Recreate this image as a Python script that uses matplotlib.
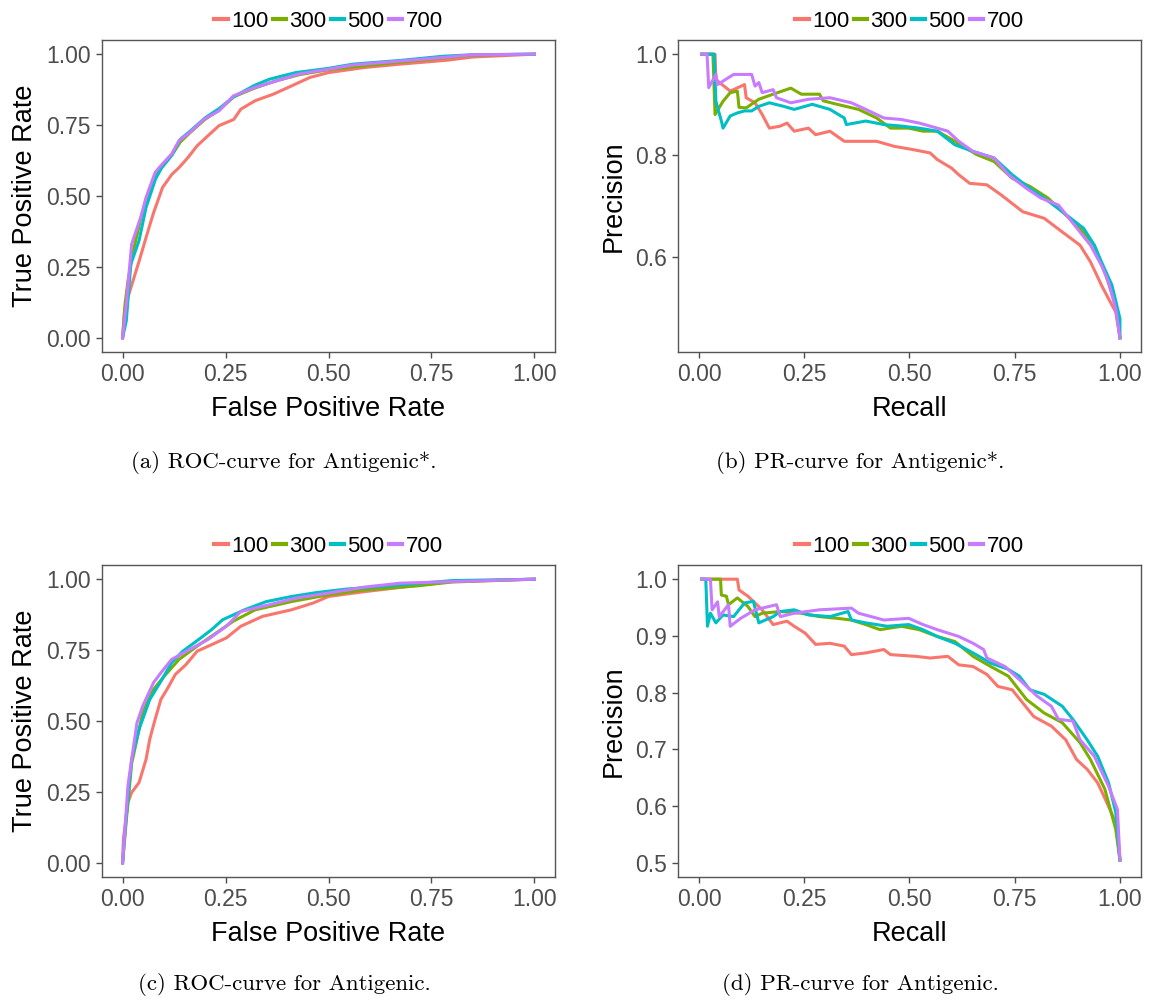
import matplotlib
matplotlib.use('Agg')
import matplotlib.pyplot as plt

plt.rcParams['font.family'] = ['Liberation Sans', 'DejaVu Sans']

SIZES = ["100", "300", "500", "700"]
COLORS = ["#F8766D", "#7CAE00", "#00BFC4", "#C77CFF"]

# (a) ROC, Antigenic*
roc_a_fpr = {
    "100": [0, 0.005, 0.013, 0.04, 0.057, 0.075, 0.097, 0.12, 0.137, 0.159, 0.181, 0.207, 0.234, 0.27, 0.287, 0.322, 0.366, 0.41, 0.455, 0.5, 0.587, 0.675, 0.79, 0.85, 1.0],
    "300": [0, 0.006, 0.013, 0.025, 0.044, 0.06, 0.08, 0.095, 0.12, 0.14, 0.165, 0.2, 0.236, 0.27, 0.32, 0.37, 0.43, 0.5, 0.56, 0.675, 0.79, 0.85, 1.0],
    "500": [0, 0.009, 0.02, 0.04, 0.057, 0.08, 0.095, 0.12, 0.14, 0.165, 0.2, 0.236, 0.27, 0.32, 0.357, 0.42, 0.5, 0.56, 0.675, 0.78, 0.85, 1.0],
    "700": [0, 0.009, 0.022, 0.044, 0.057, 0.079, 0.093, 0.119, 0.137, 0.163, 0.198, 0.234, 0.269, 0.322, 0.375, 0.428, 0.5, 0.56, 0.675, 0.79, 0.85, 1.0],
}
roc_a_tpr = {
    "100": [0, 0.1, 0.143, 0.27, 0.354, 0.44, 0.53, 0.577, 0.60, 0.636, 0.677, 0.712, 0.748, 0.77, 0.806, 0.836, 0.859, 0.888, 0.918, 0.935, 0.953, 0.965, 0.979, 0.99, 1.0],
    "300": [0, 0.12, 0.2, 0.3, 0.42, 0.49, 0.575, 0.6, 0.645, 0.69, 0.725, 0.77, 0.805, 0.85, 0.88, 0.905, 0.928, 0.945, 0.955, 0.972, 0.988, 0.997, 1.0],
    "500": [0, 0.06, 0.26, 0.343, 0.46, 0.56, 0.6, 0.645, 0.7, 0.73, 0.775, 0.81, 0.85, 0.89, 0.912, 0.935, 0.95, 0.965, 0.978, 0.993, 0.998, 1.0],
    "700": [0, 0.12, 0.33, 0.425, 0.495, 0.583, 0.607, 0.648, 0.695, 0.724, 0.771, 0.80, 0.853, 0.883, 0.906, 0.93, 0.947, 0.962, 0.976, 0.99, 0.998, 1.0],
}

# (b) PR, Antigenic*
pr_b_rec = {
    "100": [0.006, 0.038, 0.04, 0.074, 0.108, 0.112, 0.133, 0.15, 0.167, 0.193, 0.209, 0.226, 0.26, 0.277, 0.311, 0.345, 0.379, 0.422, 0.464, 0.506, 0.549, 0.566, 0.6, 0.617, 0.643, 0.684, 0.718, 0.769, 0.82, 0.863, 0.905, 0.93, 0.956, 0.973, 0.99, 1.0],
    "300": [0.006, 0.033, 0.038, 0.057, 0.074, 0.091, 0.095, 0.112, 0.142, 0.176, 0.218, 0.243, 0.286, 0.295, 0.328, 0.379, 0.422, 0.455, 0.498, 0.532, 0.566, 0.608, 0.659, 0.701, 0.744, 0.786, 0.829, 0.863, 0.905, 0.939, 0.964, 0.99, 1.0],
    "500": [0.006, 0.036, 0.04, 0.053, 0.057, 0.074, 0.091, 0.108, 0.125, 0.142, 0.167, 0.201, 0.226, 0.269, 0.311, 0.345, 0.35, 0.396, 0.439, 0.481, 0.523, 0.566, 0.608, 0.651, 0.701, 0.744, 0.786, 0.82, 0.863, 0.914, 0.939, 0.956, 0.981, 1.0, 1.0],
    "700": [0.006, 0.019, 0.023, 0.04, 0.044, 0.082, 0.125, 0.133, 0.142, 0.15, 0.176, 0.184, 0.218, 0.26, 0.311, 0.362, 0.396, 0.439, 0.481, 0.523, 0.566, 0.591, 0.617, 0.651, 0.701, 0.735, 0.778, 0.812, 0.854, 0.879, 0.905, 0.93, 0.956, 0.973, 0.99, 1.0],
}
pr_b_prec = {
    "100": [1.0, 1.0, 0.95, 0.927, 0.94, 0.914, 0.904, 0.881, 0.854, 0.858, 0.864, 0.848, 0.854, 0.841, 0.848, 0.828, 0.828, 0.828, 0.818, 0.812, 0.805, 0.792, 0.775, 0.762, 0.745, 0.742, 0.722, 0.689, 0.676, 0.649, 0.623, 0.59, 0.544, 0.517, 0.491, 0.44],
    "300": [1.0, 1.0, 0.881, 0.907, 0.924, 0.927, 0.895, 0.894, 0.911, 0.921, 0.933, 0.921, 0.921, 0.908, 0.901, 0.891, 0.874, 0.854, 0.854, 0.848, 0.848, 0.828, 0.802, 0.788, 0.755, 0.739, 0.716, 0.689, 0.656, 0.623, 0.57, 0.504, 0.44],
    "500": [1.0, 1.0, 0.907, 0.868, 0.854, 0.878, 0.884, 0.888, 0.888, 0.897, 0.904, 0.897, 0.891, 0.901, 0.891, 0.874, 0.861, 0.868, 0.861, 0.858, 0.854, 0.848, 0.821, 0.808, 0.795, 0.762, 0.735, 0.716, 0.689, 0.656, 0.623, 0.59, 0.544, 0.478, 0.44],
    "700": [1.0, 1.0, 0.934, 0.96, 0.94, 0.96, 0.96, 0.937, 0.944, 0.924, 0.93, 0.914, 0.904, 0.911, 0.914, 0.904, 0.891, 0.874, 0.871, 0.864, 0.854, 0.848, 0.828, 0.808, 0.795, 0.762, 0.735, 0.716, 0.702, 0.676, 0.649, 0.623, 0.583, 0.55, 0.497, 0.44],
}

# (c) ROC, Antigenic
roc_c_fpr = {
    "100": [0, 0.002, 0.013, 0.022, 0.04, 0.057, 0.066, 0.079, 0.093, 0.11, 0.128, 0.154, 0.181, 0.216, 0.252, 0.287, 0.34, 0.41, 0.463, 0.5, 0.587, 0.675, 0.80, 1.0],
    "300": [0, 0.009, 0.022, 0.049, 0.075, 0.101, 0.137, 0.181, 0.216, 0.269, 0.322, 0.41, 0.5, 0.587, 0.719, 0.80, 1.0],
    "500": [0, 0.009, 0.022, 0.04, 0.066, 0.093, 0.119, 0.146, 0.19, 0.216, 0.243, 0.296, 0.349, 0.41, 0.472, 0.543, 0.675, 0.80, 1.0],
    "700": [0, 0.013, 0.022, 0.035, 0.049, 0.075, 0.093, 0.119, 0.163, 0.207, 0.252, 0.287, 0.357, 0.42, 0.5, 0.587, 0.675, 1.0],
}
roc_c_tpr = {
    "100": [0, 0.084, 0.213, 0.248, 0.283, 0.365, 0.436, 0.506, 0.576, 0.617, 0.664, 0.699, 0.746, 0.769, 0.793, 0.834, 0.869, 0.892, 0.916, 0.939, 0.956, 0.971, 0.992, 1.0],
    "300": [0, 0.15, 0.35, 0.53, 0.611, 0.658, 0.717, 0.764, 0.799, 0.852, 0.892, 0.921, 0.945, 0.962, 0.977, 0.99, 1.0],
    "500": [0, 0.166, 0.365, 0.471, 0.576, 0.64, 0.705, 0.746, 0.793, 0.822, 0.857, 0.892, 0.921, 0.939, 0.953, 0.965, 0.98, 0.995, 1.0],
    "700": [0, 0.272, 0.365, 0.494, 0.553, 0.635, 0.67, 0.717, 0.752, 0.787, 0.834, 0.886, 0.91, 0.933, 0.951, 0.972, 0.986, 1.0],
}

# (d) PR, Antigenic
pr_d_rec = {
    "100": [0.006, 0.091, 0.095, 0.116, 0.15, 0.176, 0.209, 0.226, 0.252, 0.277, 0.311, 0.345, 0.362, 0.396, 0.439, 0.455, 0.515, 0.549, 0.591, 0.617, 0.651, 0.684, 0.71, 0.744, 0.769, 0.795, 0.837, 0.871, 0.897, 0.922, 0.947, 0.969, 0.99, 1.0],
    "300": [0.006, 0.051, 0.053, 0.065, 0.07, 0.091, 0.116, 0.133, 0.15, 0.193, 0.243, 0.286, 0.328, 0.362, 0.396, 0.43, 0.481, 0.523, 0.566, 0.608, 0.651, 0.693, 0.735, 0.778, 0.82, 0.863, 0.905, 0.93, 0.964, 0.99, 1.0],
    "500": [0.006, 0.016, 0.02, 0.027, 0.04, 0.057, 0.082, 0.108, 0.129, 0.142, 0.176, 0.193, 0.226, 0.26, 0.311, 0.354, 0.362, 0.396, 0.447, 0.498, 0.532, 0.566, 0.608, 0.651, 0.693, 0.735, 0.761, 0.786, 0.82, 0.863, 0.888, 0.922, 0.947, 0.973, 0.99, 1.0],
    "700": [0.006, 0.027, 0.031, 0.044, 0.048, 0.07, 0.074, 0.099, 0.133, 0.184, 0.193, 0.226, 0.286, 0.362, 0.379, 0.439, 0.498, 0.532, 0.566, 0.617, 0.651, 0.676, 0.684, 0.727, 0.761, 0.803, 0.837, 0.854, 0.888, 0.905, 0.939, 0.973, 0.994, 1.0],
}
pr_d_prec = {
    "100": [1.0, 1.0, 0.981, 0.97, 0.946, 0.92, 0.926, 0.917, 0.905, 0.885, 0.887, 0.882, 0.867, 0.87, 0.876, 0.867, 0.864, 0.861, 0.864, 0.849, 0.846, 0.832, 0.811, 0.805, 0.782, 0.758, 0.741, 0.717, 0.682, 0.665, 0.641, 0.606, 0.571, 0.505],
    "300": [1.0, 1.0, 0.972, 0.97, 0.955, 0.967, 0.952, 0.934, 0.94, 0.943, 0.94, 0.934, 0.931, 0.928, 0.92, 0.911, 0.917, 0.911, 0.899, 0.89, 0.864, 0.846, 0.829, 0.788, 0.764, 0.747, 0.712, 0.682, 0.63, 0.559, 0.505],
    "500": [1.0, 1.0, 0.917, 0.94, 0.923, 0.937, 0.934, 0.958, 0.961, 0.923, 0.934, 0.943, 0.946, 0.937, 0.934, 0.943, 0.928, 0.923, 0.917, 0.92, 0.911, 0.899, 0.887, 0.87, 0.852, 0.841, 0.829, 0.805, 0.797, 0.776, 0.753, 0.717, 0.688, 0.641, 0.589, 0.505],
    "700": [1.0, 1.0, 0.946, 0.96, 0.934, 0.955, 0.917, 0.931, 0.946, 0.955, 0.934, 0.94, 0.946, 0.949, 0.94, 0.928, 0.931, 0.92, 0.911, 0.899, 0.887, 0.876, 0.861, 0.846, 0.823, 0.794, 0.776, 0.753, 0.75, 0.717, 0.688, 0.635, 0.594, 0.505],
}

W, H = 1150, 1006
fig = plt.figure(figsize=(W / 100, H / 100), dpi=100)


def make_axes(x0, y0, x1, y1):
    return fig.add_axes([x0 / W, 1 - y1 / H, (x1 - x0) / W, (y1 - y0) / H])


def style(ax, xlabel, ylabel, ylim, yticks, yfmt):
    ax.set_xlim(-0.05, 1.05)
    ax.set_ylim(*ylim)
    ax.set_xticks([0, 0.25, 0.5, 0.75, 1.0])
    ax.set_xticklabels(["0.00", "0.25", "0.50", "0.75", "1.00"])
    ax.set_yticks(yticks)
    ax.set_yticklabels([yfmt.format(v) for v in yticks])
    ax.tick_params(direction="out", length=4, width=1, color="#4d4d4d",
                   labelsize=16.5, labelcolor="#4d4d4d", pad=4)
    for s in ax.spines.values():
        s.set_color("#555555")
        s.set_linewidth(1)
    ax.set_xlabel(xlabel, fontsize=19.5, labelpad=7)
    ax.set_ylabel(ylabel, fontsize=19.5, labelpad=6)
    leg = ax.legend(loc="lower center", bbox_to_anchor=(0.5, 1.0), ncol=4, frameon=False,
                    fontsize=16, handlelength=0.6, handletextpad=0.15, columnspacing=0.2,
                    borderaxespad=0.25, borderpad=0.1)
    for h in leg.get_lines():
        h.set_linewidth(3)


def draw(ax, xs, ys):
    for size, col in zip(SIZES, COLORS):
        ax.plot(xs[size], ys[size], color=col, lw=2.2, label=size)


roc_ticks = [0, 0.25, 0.5, 0.75, 1.0]

ax = make_axes(102, 40, 555, 352)
draw(ax, roc_a_fpr, roc_a_tpr)
style(ax, "False Positive Rate", "True Positive Rate", (-0.05, 1.05), roc_ticks, "{:.2f}")

ax = make_axes(678, 40, 1141, 352)
draw(ax, pr_b_rec, pr_b_prec)
style(ax, "Recall", "Precision", (0.412, 1.028), [0.6, 0.8, 1.0], "{:.1f}")

ax = make_axes(102, 565, 555, 877)
draw(ax, roc_c_fpr, roc_c_tpr)
style(ax, "False Positive Rate", "True Positive Rate", (-0.05, 1.05), roc_ticks, "{:.2f}")

ax = make_axes(678, 565, 1141, 877)
draw(ax, pr_d_rec, pr_d_prec)
style(ax, "Recall", "Precision", (0.475, 1.025), [0.5, 0.6, 0.7, 0.8, 0.9, 1.0], "{:.1f}")

captions = [
    (284, 462, "(a) ROC-curve for Antigenic*."),
    (860, 462, "(b) PR-curve for Antigenic*."),
    (284, 985, "(c) ROC-curve for Antigenic."),
    (860, 985, "(d) PR-curve for Antigenic."),
]
for cx, cy, txt in captions:
    fig.text(cx / W, 1 - cy / H, txt, ha="center", va="center", fontsize=16.5, family="cmr10")

plt.savefig("out.png", dpi=100)
plt.close()
